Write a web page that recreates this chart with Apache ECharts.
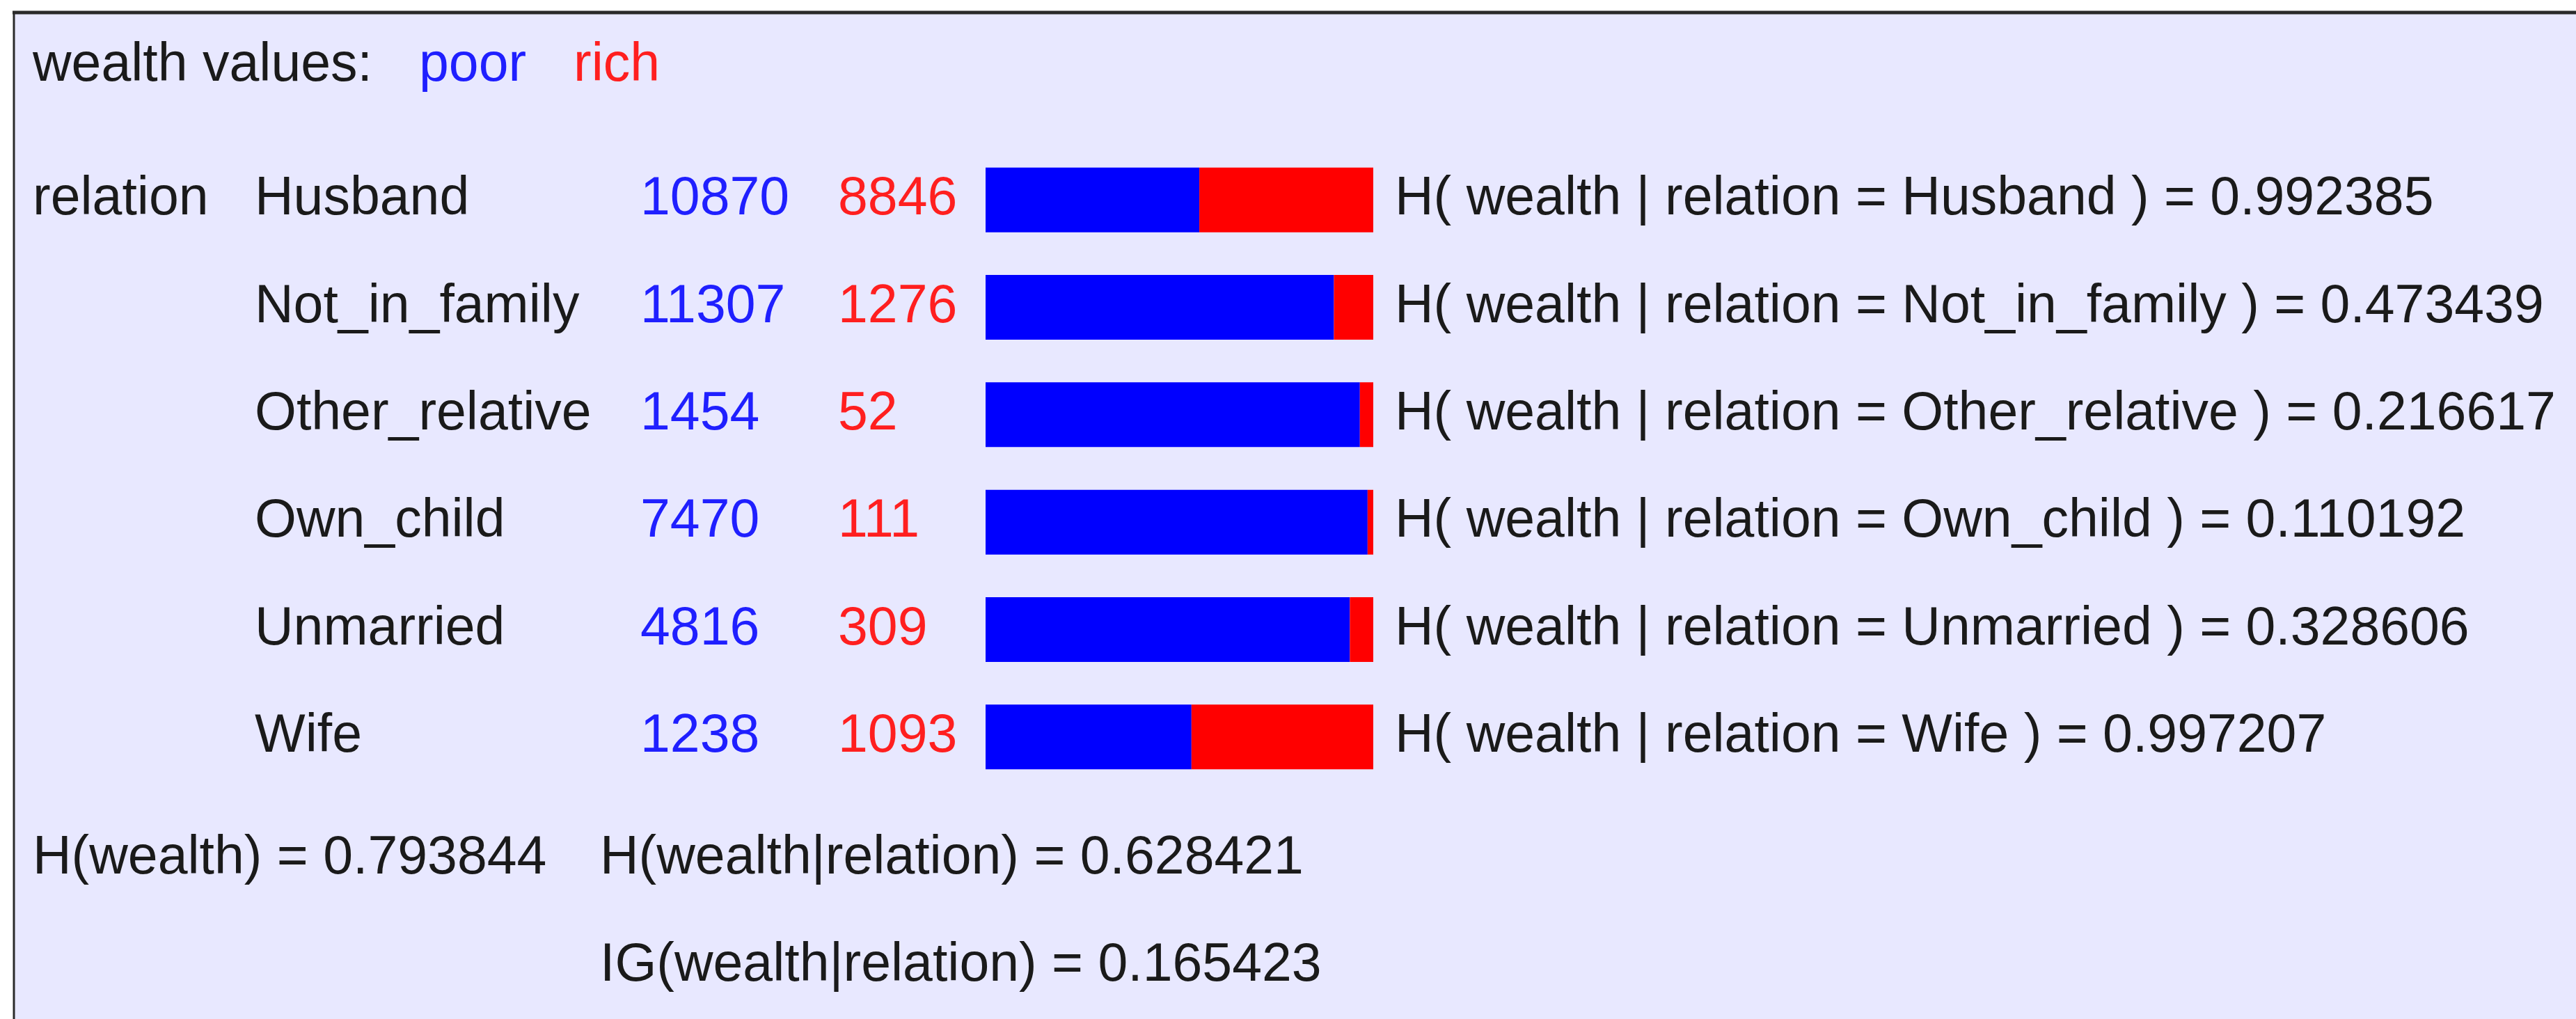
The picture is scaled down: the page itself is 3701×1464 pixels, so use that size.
<!DOCTYPE html>
<html>
<head>
<meta charset="utf-8">
<script src="https://cdn.jsdelivr.net/npm/echarts@6/dist/echarts.min.js"></script>
<style>
  body { margin: 0; background: #fff; }
  #main { width: 3701px; height: 1464px; }
</style>
</head>
<body>
<div id="main"></div>
<script>
// values of the relation attribute
var categories = ['Husband', 'Not_in_family', 'Other_relative', 'Own_child', 'Unmarried', 'Wife'];
// counts for wealth = poor / rich
var poorCounts = [10870, 11307, 1454, 7470, 4816, 1238];
var richCounts = [8846, 1276, 52, 111, 309, 1093];
// H( wealth | relation = x )
var condEntropy = ['0.992385', '0.473439', '0.216617', '0.110192', '0.328606', '0.997207'];
var hWealth = '0.793844';
var hWealthRelation = '0.628421';
var igWealthRelation = '0.165423';

var FONT = '"Liberation Sans", Arial, sans-serif';
var FS = 77;
var TXT = '#1a1a1a';

// bar lengths are shares of the row total
var poorShare = poorCounts.map(function (v, i) { return v / (v + richCounts[i]); });
var richShare = richCounts.map(function (v, i) { return v / (v + poorCounts[i]); });

var myChart = echarts.init(document.getElementById('main'));

var option = {
  backgroundColor: '#fff',
  animation: false,
  title: {
    left: 47,
    top: 55,
    padding: 0,
    text: '{a|wealth values:}{b|poor}{c|rich}',
    textStyle: {
      fontWeight: 'normal',
      rich: {
        a: { width: 555, fontSize: FS, lineHeight: 80, fontFamily: FONT, fontWeight: 'normal', color: TXT },
        b: { width: 222, fontSize: FS, lineHeight: 80, fontFamily: FONT, fontWeight: 'normal', color: '#1f1fff' },
        c: { fontSize: FS, lineHeight: 80, fontFamily: FONT, fontWeight: 'normal', color: '#ff1f1f' }
      }
    }
  },
  grid: { left: 1416, right: 1728, top: 210, height: 926 },
  xAxis: { type: 'value', min: 0, max: 1, show: false },
  yAxis: [
    {
      type: 'category',
      inverse: true,
      data: categories,
      axisLine: { show: false },
      axisTick: { show: false },
      axisLabel: {
        align: 'left',
        margin: 1369,
        formatter: function (val, i) {
          var rel = i === 0 ? 'relation' : ' ';
          return '{rel|' + rel + '}{name|' + val + '}{p|' + poorCounts[i] + '}{r|' + richCounts[i] + '}';
        },
        rich: {
          rel: { width: 319, fontSize: FS, fontFamily: FONT, color: TXT },
          name: { width: 554, fontSize: FS, fontFamily: FONT, color: TXT },
          p: { width: 284, fontSize: FS, fontFamily: FONT, color: '#1f1fff' },
          r: { fontSize: FS, fontFamily: FONT, color: '#ff1f1f' }
        }
      }
    },
    {
      type: 'category',
      inverse: true,
      position: 'right',
      data: categories,
      axisLine: { show: false },
      axisTick: { show: false },
      axisLabel: {
        align: 'left',
        margin: 31,
        fontSize: FS,
        fontFamily: FONT,
        color: TXT,
        formatter: function (val, i) {
          return 'H( wealth | relation = ' + val + ' ) = ' + condEntropy[i];
        }
      }
    }
  ],
  series: [
    {
      name: 'poor',
      type: 'bar',
      stack: 'w',
      barWidth: 93,
      itemStyle: { color: '#0000ff' },
      data: poorShare
    },
    {
      name: 'rich',
      type: 'bar',
      stack: 'w',
      barWidth: 93,
      itemStyle: { color: '#ff0000' },
      data: richShare
    }
  ],
  graphic: [
    { type: 'rect', z: -100, shape: { x: 20, y: 18, width: 3701, height: 1464 }, style: { fill: '#e8e8ff' } },
    { type: 'line', z: -99, shape: { x1: 18, y1: 18, x2: 3701, y2: 18 }, style: { stroke: '#2a2a2a', lineWidth: 5 } },
    { type: 'line', z: -99, shape: { x1: 20, y1: 16, x2: 20, y2: 1464 }, style: { stroke: '#2a2a2a', lineWidth: 3 } },
    {
      type: 'text', x: 47, y: 1234,
      style: { text: 'H(wealth) = ' + hWealth, font: FS + 'px ' + FONT, fill: TXT, verticalAlign: 'middle' }
    },
    {
      type: 'text', x: 862, y: 1234,
      style: { text: 'H(wealth|relation) = ' + hWealthRelation, font: FS + 'px ' + FONT, fill: TXT, verticalAlign: 'middle' }
    },
    {
      type: 'text', x: 862, y: 1388,
      style: { text: 'IG(wealth|relation) = ' + igWealthRelation, font: FS + 'px ' + FONT, fill: TXT, verticalAlign: 'middle' }
    }
  ]
};

myChart.setOption(option);
</script>
</body>
</html>
